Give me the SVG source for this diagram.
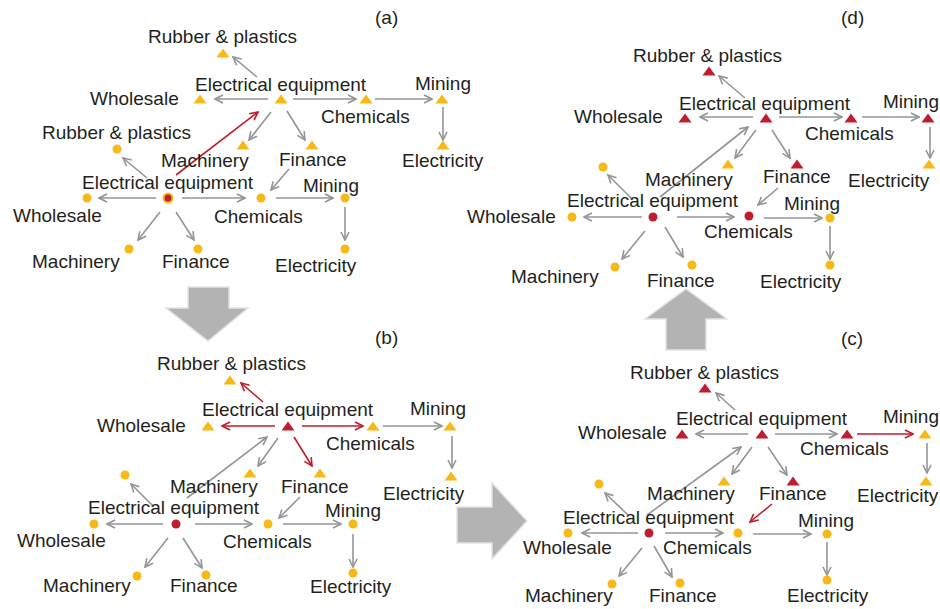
<svg xmlns="http://www.w3.org/2000/svg" xmlns:xlink="http://www.w3.org/1999/xlink" width="940" height="609" viewBox="0 0 940 609">
<style>
text{font-family:"Liberation Sans",Arial,Helvetica,sans-serif;font-size:19px;fill:#231f20}
.g{stroke:#939598;stroke-width:1.6;fill:none;marker-end:url(#ag)}
.r{stroke:#be1e2d;stroke-width:1.6;fill:none;marker-end:url(#ar)}
.y{fill:#f7b918}
.rd{fill:#be1e2d}
.big{fill:#b3b3b3;stroke:#e3e3e3;stroke-width:1.5}
</style>
<defs>
<marker id="ag" viewBox="0 0 10 10" refX="9" refY="5" markerWidth="10" markerHeight="10" markerUnits="userSpaceOnUse" orient="auto"><path d="M1,1 L9,5 L1,9" fill="none" stroke="#939598" stroke-width="1.6"/></marker>
<marker id="ar" viewBox="0 0 10 10" refX="9" refY="5" markerWidth="10" markerHeight="10" markerUnits="userSpaceOnUse" orient="auto"><path d="M1,1 L9,5 L1,9" fill="none" stroke="#be1e2d" stroke-width="1.6"/></marker>
<path id="tri" d="M-6.5,4.5 L0,-4.5 L6.5,4.5 Z"/>
</defs>
<rect width="940" height="609" fill="#fff"/>

<!-- big arrows -->
<g id="bigArrows">
<path class="big" d="M188,287 H229 V308 H248 L208,341 L166,308 H188 Z"/>
<path class="big" d="M457,507 H492 V483 L527,521 L492,559 V543 H457 Z"/>
<path class="big" d="M666,350 H706 V319 H727 L686,289 L645,319 H666 Z"/>
</g>

<!-- panel labels -->
<text x="375" y="24">(a)</text>
<text x="375" y="344">(b)</text>
<text x="841" y="345">(c)</text>
<text x="841" y="24">(d)</text>

<g id="connectors">
<!-- (a) -->
<line class="g" x1="268" y1="99" x2="215" y2="99"/>
<line class="g" x1="293" y1="99" x2="356" y2="99"/>
<line class="g" x1="375" y1="99" x2="432" y2="99"/>
<line class="g" x1="443" y1="107" x2="443" y2="140"/>
<line class="g" x1="257" y1="77" x2="233" y2="57"/>
<line class="g" x1="271" y1="112" x2="249" y2="140"/>
<line class="g" x1="287" y1="111" x2="305" y2="140"/>
<line class="g" x1="156" y1="198" x2="99" y2="198"/>
<line class="g" x1="182" y1="198" x2="245" y2="198"/>
<line class="g" x1="276" y1="198" x2="333" y2="198"/>
<line class="g" x1="345" y1="207" x2="345" y2="240"/>
<line class="g" x1="160" y1="212" x2="138" y2="240"/>
<line class="g" x1="176" y1="212" x2="194" y2="240"/>
<line class="g" x1="147" y1="178" x2="123" y2="158"/>
<line class="g" x1="289" y1="169" x2="271" y2="190"/>
<line class="r" x1="176" y1="175" x2="258" y2="112"/>
<!-- (b) -->
<line class="r" x1="263" y1="402" x2="241" y2="383"/>
<line class="r" x1="275" y1="426" x2="222" y2="426"/>
<line class="r" x1="302" y1="426" x2="363" y2="426"/>
<line class="r" x1="294" y1="437" x2="312" y2="466"/>
<line class="g" x1="383" y1="426" x2="442" y2="426"/>
<line class="g" x1="452" y1="436" x2="452" y2="468"/>
<line class="g" x1="187" y1="498" x2="267" y2="437"/>
<line class="g" x1="278" y1="438" x2="258" y2="466"/>
<line class="g" x1="163" y1="524" x2="107" y2="524"/>
<line class="g" x1="195" y1="524" x2="252" y2="524"/>
<line class="g" x1="283" y1="524" x2="341" y2="524"/>
<line class="g" x1="353" y1="534" x2="353" y2="567"/>
<line class="g" x1="168" y1="538" x2="145" y2="567"/>
<line class="g" x1="183" y1="538" x2="202" y2="568"/>
<line class="g" x1="154" y1="507" x2="131" y2="484"/>
<line class="g" x1="300" y1="497" x2="279" y2="518"/>
<!-- (d) -->
<line class="g" x1="745" y1="98" x2="719" y2="76"/>
<line class="g" x1="753" y1="117" x2="700" y2="117"/>
<line class="g" x1="779" y1="117" x2="842" y2="117"/>
<line class="g" x1="862" y1="117" x2="919" y2="117"/>
<line class="g" x1="930" y1="127" x2="930" y2="158"/>
<line class="g" x1="660" y1="197" x2="748" y2="127"/>
<line class="g" x1="756" y1="130" x2="735" y2="158"/>
<line class="g" x1="772" y1="130" x2="790" y2="158"/>
<line class="g" x1="642" y1="217" x2="584" y2="217"/>
<line class="g" x1="677" y1="217" x2="734" y2="217"/>
<line class="g" x1="764" y1="218" x2="822" y2="218"/>
<line class="g" x1="830" y1="226" x2="830" y2="259"/>
<line class="g" x1="645" y1="231" x2="622" y2="259"/>
<line class="g" x1="665" y1="227" x2="683" y2="257"/>
<line class="g" x1="633" y1="200" x2="608" y2="175"/>
<line class="g" x1="778" y1="188" x2="758" y2="205"/>
<!-- (c) -->
<line class="g" x1="735" y1="410" x2="716" y2="393"/>
<line class="g" x1="748" y1="434" x2="696" y2="434"/>
<line class="g" x1="775" y1="434" x2="837" y2="434"/>
<line class="r" x1="857" y1="434" x2="913" y2="434"/>
<line class="g" x1="927" y1="443" x2="927" y2="473"/>
<line class="g" x1="647" y1="515" x2="741" y2="447"/>
<line class="g" x1="752" y1="447" x2="732" y2="474"/>
<line class="g" x1="768" y1="447" x2="787" y2="475"/>
<line class="g" x1="638" y1="533" x2="582" y2="533"/>
<line class="g" x1="665" y1="533" x2="723" y2="533"/>
<line class="g" x1="753" y1="534" x2="811" y2="534"/>
<line class="g" x1="827" y1="542" x2="827" y2="575"/>
<line class="g" x1="642" y1="548" x2="619" y2="576"/>
<line class="g" x1="654" y1="546" x2="672" y2="577"/>
<line class="g" x1="628" y1="515" x2="605" y2="493"/>
<line class="r" x1="772" y1="504" x2="750" y2="522"/>
</g>

<!-- Panel (a) top layer -->
<g id="a-top-rubber"><use href="#tri" class="y" x="223" y="53"/><text x="148" y="43">Rubber &amp; plastics</text></g>
<g id="a-top-wholesale"><use href="#tri" class="y" x="200" y="99"/><text x="90" y="105">Wholesale</text></g>
<g id="a-top-electrical"><use href="#tri" class="y" x="281" y="99"/><text x="195" y="91">Electrical equipment</text></g>
<g id="a-top-chemicals"><use href="#tri" class="y" x="366" y="99"/><text x="321" y="123">Chemicals</text></g>
<g id="a-top-mining"><use href="#tri" class="y" x="442" y="99"/><text x="415" y="90">Mining</text></g>
<g id="a-top-machinery"><use href="#tri" class="y" x="243" y="145"/><text x="161" y="167">Machinery</text></g>
<g id="a-top-finance"><use href="#tri" class="y" x="312" y="145"/><text x="279" y="166">Finance</text></g>
<g id="a-top-electricity"><use href="#tri" class="y" x="443" y="145"/><text x="402" y="167">Electricity</text></g>
<!-- Panel (a) bottom layer -->
<g id="a-bot-rubber"><circle class="y" cx="117" cy="149" r="4.5"/><text x="42" y="139">Rubber &amp; plastics</text></g>
<g id="a-bot-electrical"><circle class="rd" cx="168" cy="198" r="4.5" stroke="#f7b918" stroke-width="2"/><text x="82" y="189">Electrical equipment</text></g>
<g id="a-bot-wholesale"><circle class="y" cx="87" cy="198" r="4.5"/><text x="13" y="222">Wholesale</text></g>
<g id="a-bot-chemicals"><circle class="y" cx="261" cy="198" r="4.5"/><text x="214" y="223">Chemicals</text></g>
<g id="a-bot-mining"><circle class="y" cx="345" cy="198" r="4.5"/><text x="303" y="192">Mining</text></g>
<g id="a-bot-electricity"><circle class="y" cx="345" cy="249" r="4.5"/><text x="275" y="272">Electricity</text></g>
<g id="a-bot-machinery"><circle class="y" cx="129" cy="249" r="4.5"/><text x="32" y="268">Machinery</text></g>
<g id="a-bot-finance"><circle class="y" cx="198" cy="249" r="4.5"/><text x="162" y="268">Finance</text></g>

<!-- Panel (b) top layer -->
<g id="b-top-rubber"><use href="#tri" class="y" x="230" y="380"/><text x="157" y="370">Rubber &amp; plastics</text></g>
<g id="b-top-wholesale"><use href="#tri" class="y" x="208" y="426"/><text x="97" y="432">Wholesale</text></g>
<g id="b-top-electrical"><use href="#tri" class="rd" x="288" y="426"/><text x="202" y="416">Electrical equipment</text></g>
<g id="b-top-chemicals"><use href="#tri" class="y" x="373" y="426"/><text x="326" y="450">Chemicals</text></g>
<g id="b-top-mining"><use href="#tri" class="y" x="450" y="426"/><text x="410" y="415">Mining</text></g>
<g id="b-top-machinery"><use href="#tri" class="y" x="250" y="473"/><text x="170" y="493">Machinery</text></g>
<g id="b-top-finance"><use href="#tri" class="y" x="320" y="473"/><text x="281" y="493">Finance</text></g>
<g id="b-top-electricity"><use href="#tri" class="y" x="451" y="476"/><text x="383" y="500">Electricity</text></g>
<!-- Panel (b) bottom layer -->
<g id="b-bot-rubber"><circle class="y" cx="125" cy="475" r="4.5"/></g>
<g id="b-bot-electrical"><circle class="rd" cx="176" cy="524" r="4.5"/><text x="88" y="514">Electrical equipment</text></g>
<g id="b-bot-wholesale"><circle class="y" cx="94" cy="524" r="4.5"/><text x="17" y="547">Wholesale</text></g>
<g id="b-bot-chemicals"><circle class="y" cx="268" cy="524" r="4.5"/><text x="223" y="548">Chemicals</text></g>
<g id="b-bot-mining"><circle class="y" cx="353" cy="524" r="4.5"/><text x="325" y="517">Mining</text></g>
<g id="b-bot-electricity"><circle class="y" cx="353" cy="573" r="4.5"/><text x="310" y="593">Electricity</text></g>
<g id="b-bot-machinery"><circle class="y" cx="137" cy="576" r="4.5"/><text x="43" y="592">Machinery</text></g>
<g id="b-bot-finance"><circle class="y" cx="206" cy="575" r="4.5"/><text x="170" y="592">Finance</text></g>

<!-- Panel (d) top layer -->
<g id="d-top-rubber"><use href="#tri" class="rd" x="709" y="71"/><text x="633" y="62">Rubber &amp; plastics</text></g>
<g id="d-top-wholesale"><use href="#tri" class="rd" x="685" y="118"/><text x="574" y="123">Wholesale</text></g>
<g id="d-top-electrical"><use href="#tri" class="rd" x="766" y="118"/><text x="679" y="110">Electrical equipment</text></g>
<g id="d-top-chemicals"><use href="#tri" class="rd" x="851" y="118"/><text x="805" y="140">Chemicals</text></g>
<g id="d-top-mining"><use href="#tri" class="rd" x="928" y="118"/><text x="883" y="108">Mining</text></g>
<g id="d-top-machinery"><use href="#tri" class="y" x="728" y="164"/><text x="645" y="186">Machinery</text></g>
<g id="d-top-finance"><use href="#tri" class="rd" x="797" y="164"/><text x="763" y="183">Finance</text></g>
<g id="d-top-electricity"><use href="#tri" class="y" x="929" y="164"/><text x="848" y="187">Electricity</text></g>
<!-- Panel (d) bottom layer -->
<g id="d-bot-rubber"><circle class="y" cx="603" cy="167" r="4.5"/></g>
<g id="d-bot-electrical"><circle class="rd" cx="653" cy="217" r="4.5"/><text x="567" y="207">Electrical equipment</text></g>
<g id="d-bot-wholesale"><circle class="y" cx="572" cy="217" r="4.5"/><text x="467" y="223">Wholesale</text></g>
<g id="d-bot-chemicals"><circle class="rd" cx="749" cy="216" r="4.5"/><text x="704" y="238">Chemicals</text></g>
<g id="d-bot-mining"><circle class="y" cx="830" cy="218" r="4.5"/><text x="784" y="210">Mining</text></g>
<g id="d-bot-electricity"><circle class="y" cx="830" cy="265" r="4.5"/><text x="760" y="288">Electricity</text></g>
<g id="d-bot-machinery"><circle class="y" cx="615" cy="267" r="4.5"/><text x="511" y="283">Machinery</text></g>
<g id="d-bot-finance"><circle class="y" cx="692" cy="265" r="4.5"/><text x="647" y="287">Finance</text></g>

<!-- Panel (c) top layer -->
<g id="c-top-rubber"><use href="#tri" class="rd" x="705" y="388"/><text x="630" y="379">Rubber &amp; plastics</text></g>
<g id="c-top-wholesale"><use href="#tri" class="rd" x="682" y="434"/><text x="578" y="439">Wholesale</text></g>
<g id="c-top-electrical"><use href="#tri" class="rd" x="762" y="434"/><text x="676" y="425">Electrical equipment</text></g>
<g id="c-top-chemicals"><use href="#tri" class="rd" x="847" y="434"/><text x="800" y="455">Chemicals</text></g>
<g id="c-top-mining"><use href="#tri" class="y" x="925" y="434"/><text x="883" y="423">Mining</text></g>
<g id="c-top-machinery"><use href="#tri" class="y" x="724" y="481"/><text x="647" y="500">Machinery</text></g>
<g id="c-top-finance"><use href="#tri" class="rd" x="793" y="481"/><text x="759" y="500">Finance</text></g>
<g id="c-top-electricity"><use href="#tri" class="y" x="926" y="481"/><text x="857" y="502">Electricity</text></g>
<!-- Panel (c) bottom layer -->
<g id="c-bot-rubber"><circle class="y" cx="599" cy="484" r="4.5"/></g>
<g id="c-bot-electrical"><circle class="rd" cx="649" cy="533" r="4.5"/><text x="563" y="524">Electrical equipment</text></g>
<g id="c-bot-wholesale"><circle class="y" cx="568" cy="533" r="4.5"/><text x="523" y="554">Wholesale</text></g>
<g id="c-bot-chemicals"><circle class="y" cx="738" cy="533" r="4.5"/><text x="663" y="554">Chemicals</text></g>
<g id="c-bot-mining"><circle class="y" cx="827" cy="534" r="4.5"/><text x="798" y="527">Mining</text></g>
<g id="c-bot-electricity"><circle class="y" cx="827" cy="580" r="4.5"/><text x="787" y="602">Electricity</text></g>
<g id="c-bot-machinery"><circle class="y" cx="612" cy="584" r="4.5"/><text x="525" y="602">Machinery</text></g>
<g id="c-bot-finance"><circle class="y" cx="680" cy="583" r="4.5"/><text x="649" y="602">Finance</text></g>
</svg>
